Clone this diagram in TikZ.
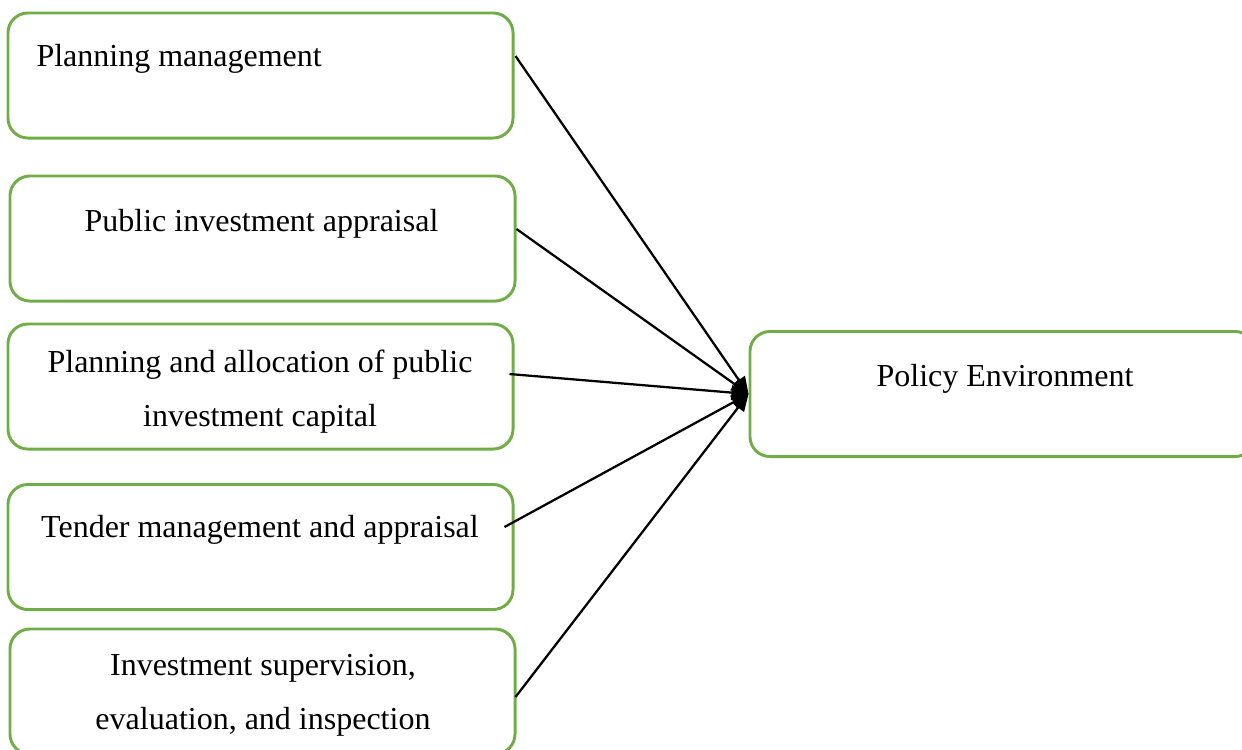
\documentclass[tikz,border=0pt]{standalone}
\usepackage{fontspec}
\setmainfont{Liberation Serif}
\usetikzlibrary{arrows.meta,calc}
\definecolor{boxgreen}{RGB}{112,173,71}

\begin{document}
\begin{tikzpicture}[x=0.375pt,y=-0.375pt,
    box/.style={draw=boxgreen, line width=1.1pt, rounded corners=7.5pt,
        minimum width=189.4pt, minimum height=46.9pt, inner sep=0pt},
    txt/.style={font=\fontsize{12}{20.2}\selectfont, align=center, inner sep=0pt, anchor=base},
    arr/.style={-{Triangle[length=6.4pt,width=5.4pt]}, line width=0.85pt}]
    \useasboundingbox (0,0) rectangle (1242,749);
    \clip (0,0) rectangle (1242,749);
    % boxes on the left
    \node[box] (b1) at (260.5,75.5) {};
    \node[box] (b2) at (262.5,238.5) {};
    \node[box] (b3) at (260.5,386.5) {};
    \node[box] (b4) at (260.5,547) {};
    \node[box] (b5) at (262.5,691.5) {};
    % box on the right
    \node[box] (pol) at (1002.5,394) {};
    % texts (base of two-line nodes is the last line)
    \node[txt, anchor=base west] (t1) at (36,66) {Planning management};
    \node[txt] (t2) at (261.5,231) {Public investment appraisal};
    \node[txt] (t3) at (260,426) {Planning and allocation of public\\investment capital};
    \node[txt] (t4) at (260,537) {Tender management and appraisal};
    \node[txt] (t5) at (263,729) {Investment supervision,\\evaluation, and inspection};
    \node[txt] (tp) at (1005,386) {Policy Environment};
    % arrows
    \draw[arr] ($(b1.east)+(1,-19.5)$) -- (pol.west);
    \draw[arr] ($(b2.east)+(0,-9.5)$) -- (pol.west);
    \draw[arr] ($(b3.east)+(-5,-12.5)$) -- (pol.west);
    \draw[arr] ($(b4.east)+(-10,-20)$) -- (pol.west);
    \draw[arr] ($(b5.east)+(-1,5.5)$) -- (pol.west);
\end{tikzpicture}
\end{document}
